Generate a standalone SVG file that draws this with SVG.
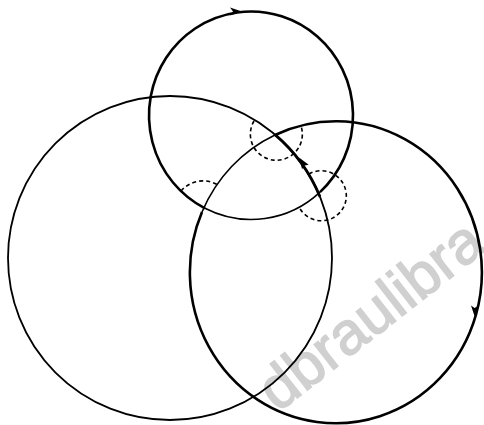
<svg xmlns="http://www.w3.org/2000/svg" width="484" height="425" viewBox="0 0 484 425">
  <style>
    .thick { fill: none; stroke: #000; stroke-width: 2.6; }
    .thin { fill: none; stroke: #000; stroke-width: 1.6; }
    .dash { fill: none; stroke: #000; stroke-width: 1.6; stroke-dasharray: 4 3; }
    .head { fill: #000; stroke: none; }
    .wm { font-family: "Liberation Sans", Arial, sans-serif; font-size: 60px; fill: #d0d0d0; stroke: #d0d0d0; stroke-width: 1.5; }
  </style>
  <rect width="484" height="425" fill="#fff"/>
  <text class="wm" transform="translate(278,413) rotate(-38)">dbraulibra</text>
  <g id="circle-top">
    <path class="thick" d="M320,192.1 A102,104 0 1,0 205,208.3"/>
    <path class="thin" d="M205,208.3 A102,104 0 0,0 320,192.1"/>
  </g>
  <g id="circle-left">
    <circle class="thin" cx="170" cy="258" r="162" style="stroke-width:1.8"/>
    <path class="thick" d="M275,134.6 A162,162 0 0,1 320,196.8" style="stroke-width:2.8"/>
  </g>
  <g id="circle-right">
    <path class="thick" d="M275,135 A146,151 0 1,1 202,212"/>
    <path class="thin" d="M202,212 A146,151 0 0,1 275,135"/>
  </g>
  <g id="connectors">
    <path class="dash" d="M254,121 A26,26 0 1,0 301,126"/>
    <path class="dash" d="M309,174 A25,25 0 1,1 299,207"/>
    <path class="dash" d="M181,191 A29,29 0 0,1 217,184.5"/>
    <polygon class="head" points="242,11.5 230,7.5 233,11.5 230,15.5"/>
    <polygon class="head" points="299,157.5 308.7,164.7 304.5,165.5 302.1,169.3"/>
    <polygon class="head" points="474.5,316 471,305.5 474.5,308 478,306"/>
  </g>
</svg>
